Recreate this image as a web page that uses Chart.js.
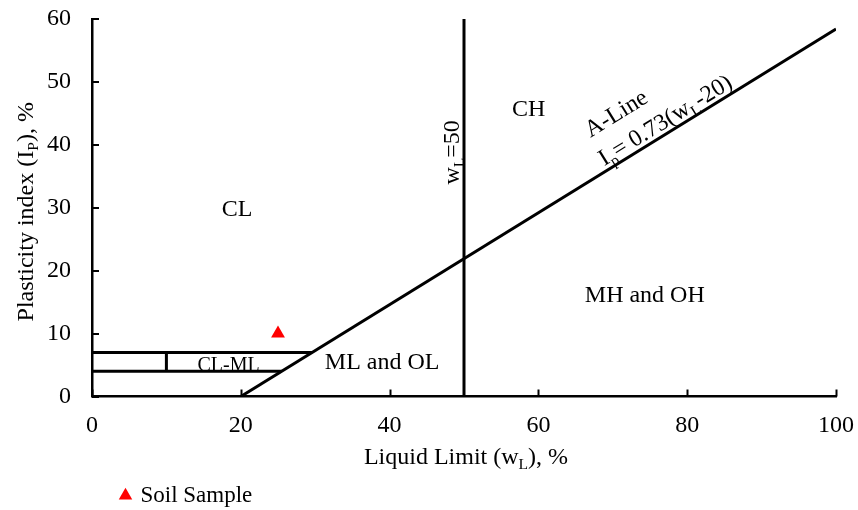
<!DOCTYPE html>
<html>
<head>
<meta charset="utf-8">
<script src="https://cdn.jsdelivr.net/npm/chart.js@4.4.1/dist/chart.umd.min.js"></script>
<style>
  html, body { margin: 0; padding: 0; background: #fff; }
</style>
</head>
<body>
<canvas id="chart" width="858" height="510"></canvas>
<script>
// A-line: Ip = 0.73 (wL - 20)
const aLineX = [20, 100];
const aLineY = [0, 58.4];
// wL = 50 boundary
const wl50X = [50, 50];
const wl50Y = [0, 60];
// CL-ML band
const bandTopX = [0, 29.6];
const bandTopY = [7, 7];
const bandLowX = [0, 25.5];
const bandLowY = [4, 4];
const bandSepX = [10, 10];
const bandSepY = [4, 7];
// soil sample
const sampleX = [25];
const sampleY = [10];
// axes
const xRange = [0, 100, 20];
const yRange = [0, 60, 10];

const FONT = '"Liberation Serif", "Times New Roman", serif';

function pts(xs, ys) {
  return xs.map((x, i) => ({ x: x, y: ys[i] }));
}

function line(label, xs, ys) {
  return {
    label: label,
    data: pts(xs, ys),
    showLine: true,
    borderColor: '#000',
    backgroundColor: '#000',
    borderWidth: 3,
    pointRadius: 0,
    pointHoverRadius: 0
  };
}

// text with subscripts, centred at (cx, cy)
function drawRich(ctx, parts, cx, cy, rot, size) {
  ctx.save();
  ctx.translate(cx, cy);
  ctx.rotate(rot);
  let w = 0;
  parts.forEach(p => {
    ctx.font = (p.sub ? size * 0.65 : size) + 'px ' + FONT;
    w += ctx.measureText(p.t).width;
  });
  let x = -w / 2;
  ctx.textAlign = 'left';
  ctx.textBaseline = 'alphabetic';
  ctx.fillStyle = '#000';
  parts.forEach(p => {
    ctx.font = (p.sub ? size * 0.65 : size) + 'px ' + FONT;
    ctx.fillText(p.t, x, size * 0.33 + (p.sub ? size * 0.22 : 0));
    x += ctx.measureText(p.t).width;
  });
  ctx.restore();
}

const notes = {
  id: 'notes',
  beforeDatasetsDraw(chart) {
    const { ctx, scales: { x, y } } = chart;
    const ang = Math.atan2(
      y.getPixelForValue(aLineY[1]) - y.getPixelForValue(aLineY[0]),
      x.getPixelForValue(aLineX[1]) - x.getPixelForValue(aLineX[0]));
    const items = [
      { parts: [{ t: 'CL' }], x: 19.5, y: 30, rot: 0, size: 24 },
      { parts: [{ t: 'CH' }], x: 58.7, y: 45.8, rot: 0, size: 24 },
      { parts: [{ t: 'MH and OH' }], x: 74.3, y: 16.3, rot: 0, size: 24 },
      { parts: [{ t: 'ML and OL' }], x: 39.0, y: 5.6, rot: 0, size: 24 },
      { parts: [{ t: 'CL-ML' }], x: 18.35, y: 5.05, rot: 0, size: 20 },
      { parts: [{ t: 'w' }, { t: 'L', sub: true }, { t: '=50' }], x: 48.25, y: 38.8, rot: -Math.PI / 2, size: 24 },
      { parts: [{ t: 'A-Line' }], x: 70.4, y: 45.1, rot: ang, size: 24 },
      { parts: [{ t: 'I' }, { t: 'p', sub: true }, { t: '= 0.73(w' }, { t: 'L', sub: true }, { t: '-20)' }], x: 77.0, y: 44.0, rot: ang, size: 24 }
    ];
    items.forEach(n => drawRich(ctx, n.parts, x.getPixelForValue(n.x), y.getPixelForValue(n.y), n.rot, n.size));
  },
  afterDatasetsDraw(chart) {
    const { ctx, chartArea: a, scales: { x, y } } = chart;
    ctx.save();
    ctx.strokeStyle = '#000';
    ctx.lineWidth = 2;
    x.ticks.forEach(t => {
      const px = Math.round(x.getPixelForValue(t.value)) + 0.5;
      ctx.beginPath(); ctx.moveTo(px, a.bottom); ctx.lineTo(px, a.bottom - 7); ctx.stroke();
    });
    y.ticks.forEach(t => {
      const py = Math.round(y.getPixelForValue(t.value));
      ctx.beginPath(); ctx.moveTo(a.left, py); ctx.lineTo(a.left + 7, py); ctx.stroke();
    });
    ctx.restore();
    // axis titles
    drawRich(ctx, [{ t: 'Liquid Limit (w' }, { t: 'L', sub: true }, { t: '), %' }],
      (a.left + a.right) / 2 + 2, a.bottom + 59.5, 0, 24);
    drawRich(ctx, [{ t: 'Plasticity index (I' }, { t: 'P', sub: true }, { t: '), %' }],
      25, (a.top + a.bottom) / 2 + 4, -Math.PI / 2, 24);
  }
};

// move the legend under the plot, like the original
const legendShift = {
  id: 'legendShift',
  afterLayout(chart) {
    const lg = chart.legend;
    if (!lg) return;
    lg.left = 122 - lg.options.labels.padding;
    lg.top += 7;
    lg.bottom += 7;
  }
};

new Chart(document.getElementById('chart'), {
  type: 'scatter',
  data: {
    datasets: [
      line('A-Line', aLineX, aLineY),
      line('wL=50', wl50X, wl50Y),
      line('CL-ML upper', bandTopX, bandTopY),
      line('CL-ML lower', bandLowX, bandLowY),
      line('CL-ML divider', bandSepX, bandSepY),
      {
        label: 'Soil Sample',
        data: pts(sampleX, sampleY),
        pointStyle: 'triangle',
        pointRadius: 8,
        pointHoverRadius: 8,
        backgroundColor: '#ff0000',
        borderColor: '#ff0000',
        borderWidth: 0
      }
    ]
  },
  options: {
    responsive: false,
    animation: false,
    layout: { padding: { top: 19, right: 22, left: 0, bottom: 0 } },
    scales: {
      x: {
        type: 'linear',
        min: xRange[0], max: xRange[1],
        ticks: { stepSize: xRange[2], color: '#000', padding: 15, font: { family: FONT, size: 24 } },
        grid: { display: false, drawTicks: false },
        border: { display: true, color: '#000', width: 2.5 },
        afterFit(s) {
          const lg = s.chart.legend;
          s.height = 510 - 396.5 - (lg ? lg.height : 0);
          s.paddingLeft = 0;
          s.paddingRight = 0;
        }
      },
      y: {
        type: 'linear',
        min: yRange[0], max: yRange[1],
        ticks: { stepSize: yRange[2], color: '#000', padding: 21, font: { family: FONT, size: 24 } },
        grid: { display: false, drawTicks: false },
        border: { display: true, color: '#000', width: 2.5 },
        afterFit(s) {
          s.width = 92;
          s.paddingTop = 0;
          s.paddingBottom = 0;
        }
      }
    },
    plugins: {
      tooltip: { enabled: false },
      legend: {
        position: 'bottom',
        align: 'start',
        labels: {
          filter: item => item.text === 'Soil Sample',
          usePointStyle: true,
          boxWidth: 7,
          boxHeight: 11,
          padding: 4,
          color: '#000',
          font: { family: FONT, size: 23 }
        }
      }
    }
  },
  plugins: [notes, legendShift]
});
</script>
</body>
</html>
